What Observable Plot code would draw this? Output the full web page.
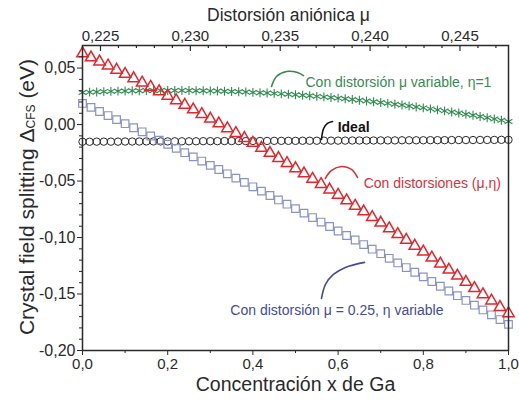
<!DOCTYPE html>
<html><head><meta charset="utf-8">
<script src="https://cdn.jsdelivr.net/npm/d3@7"></script>
<script src="https://cdn.jsdelivr.net/npm/@observablehq/plot@0.6"></script>
<style>body{margin:0;background:#fff} svg{font-family:"Liberation Sans",Arial,sans-serif}</style>
</head><body><div id="chart"></div>
<script>
// Concentration grids (x de Ga)
const xGrid51 = d3.range(51).map(i => i / 50);
const xGrid61 = d3.range(61).map(i => i / 60);

// Con distorsiones (mu, eta) — red triangles
const redY = [0.0629,0.0593,0.0557,0.0521,0.0484,0.0447,0.0409,0.0371,0.0333,0.0294,
  0.0254,0.0214,0.0174,0.0133,0.0092,0.0051,0.0009,-0.0034,-0.0076,-0.0120,
  -0.0163,-0.0207,-0.0252,-0.0297,-0.0342,-0.0388,-0.0434,-0.0481,-0.0528,-0.0576,
  -0.0623,-0.0672,-0.0721,-0.0770,-0.0820,-0.0870,-0.0920,-0.0971,-0.1022,-0.1074,
  -0.1126,-0.1179,-0.1232,-0.1286,-0.1339,-0.1394,-0.1449,-0.1504,-0.1559,-0.1616,-0.1672];

// Con distorsion mu = 0.25, eta variable — blue squares
const blueY = [0.0187,0.0152,0.0116,0.0080,0.0044,0.0008,-0.0028,-0.0064,-0.0101,-0.0138,
  -0.0174,-0.0211,-0.0249,-0.0286,-0.0323,-0.0361,-0.0398,-0.0436,-0.0474,-0.0512,
  -0.0551,-0.0589,-0.0628,-0.0667,-0.0705,-0.0744,-0.0784,-0.0823,-0.0863,-0.0902,
  -0.0942,-0.0982,-0.1022,-0.1062,-0.1103,-0.1143,-0.1184,-0.1225,-0.1266,-0.1307,
  -0.1348,-0.1389,-0.1431,-0.1473,-0.1515,-0.1557,-0.1599,-0.1641,-0.1684,-0.1726,-0.1769];

// Con distorsion mu variable, eta = 1 — green asterisks
const greenY = [0.0284,0.0287,0.0289,0.0292,0.0294,0.0296,0.0297,0.0299,0.0300,0.0301,
  0.0301,0.0302,0.0302,0.0302,0.0302,0.0301,0.0300,0.0299,0.0298,0.0297,
  0.0295,0.0293,0.0291,0.0288,0.0285,0.0282,0.0279,0.0276,0.0272,0.0268,
  0.0264,0.0260,0.0255,0.0250,0.0245,0.0240,0.0234,0.0228,0.0222,0.0216,
  0.0209,0.0202,0.0195,0.0188,0.0180,0.0173,0.0165,0.0156,0.0148,0.0139,
  0.0130,0.0121,0.0111,0.0102,0.0092,0.0082,0.0071,0.0060,0.0050,0.0038,0.0027];

// Ideal — black circles
const idealY = [-0.0152,-0.0152,-0.0151,-0.0151,-0.0151,-0.0151,-0.0150,-0.0150,-0.0150,-0.0149,
  -0.0149,-0.0149,-0.0149,-0.0148,-0.0148,-0.0148,-0.0148,-0.0147,-0.0147,-0.0147,
  -0.0146,-0.0146,-0.0146,-0.0146,-0.0145,-0.0145,-0.0145,-0.0144,-0.0144,-0.0144,
  -0.0144,-0.0143,-0.0143,-0.0143,-0.0142,-0.0142,-0.0142,-0.0142,-0.0141,-0.0141,
  -0.0141,-0.0141,-0.0140,-0.0140,-0.0140,-0.0139,-0.0139,-0.0139,-0.0139,-0.0138,
  -0.0138,-0.0138,-0.0137,-0.0137,-0.0137,-0.0137,-0.0136,-0.0136,-0.0136,-0.0135,-0.0135];

// Tick values
const xTicks = [0, 0.2, 0.4, 0.6, 0.8, 1.0];
const xMinor = [0.1, 0.3, 0.5, 0.7, 0.9];
const yTicks = [-0.20, -0.15, -0.10, -0.05, 0.00, 0.05];
const yMinor = [-0.19,-0.18,-0.17,-0.16,-0.14,-0.13,-0.12,-0.11,-0.09,-0.08,-0.07,-0.06,-0.04,-0.03,-0.02,-0.01,0.01,0.02,0.03,0.04,0.06];
const muDomain = [0.224, 0.2477];
const muTicks = [0.225, 0.230, 0.235, 0.240, 0.245];
const muMinor = [0.224,0.226,0.227,0.228,0.229,0.231,0.232,0.233,0.234,0.236,0.237,0.238,0.239,0.241,0.242,0.243,0.244,0.246,0.247];

// Annotations
const labels = [
  {x: 0.5235, y: 0.0373, text: "Con distorsión μ variable, η=1", color: "#3a8a52"},
  {x: 0.660, y: -0.0521, text: "Con distorsiones (μ,η)", color: "#d8323c"},
  {x: 0.347, y: -0.1645, text: "Con distorsión μ = 0.25, η variable", color: "#434c96"}
];
const labelIdeal = [{x: 0.599, y: -0.0026, text: "Ideal"}];
const arcGreen = [{x:0.4437,y:0.0337},{x:0.4554,y:0.0426},{x:0.4789,y:0.0470},{x:0.5047,y:0.0461},{x:0.5188,y:0.0434}];
const arcBlack = [{x:0.561,y:-0.0132},{x:0.566,y:-0.0035},{x:0.575,y:0.0010},{x:0.587,y:0.0027}];
const arcRed = [{x:0.570,y:-0.0477},{x:0.5845,y:-0.0406},{x:0.608,y:-0.0371},{x:0.6315,y:-0.0397},{x:0.6455,y:-0.0468}];
const arcBlue = [{x:0.561,y:-0.1539},{x:0.5704,y:-0.1415},{x:0.589,y:-0.1327},{x:0.617,y:-0.1265},{x:0.662,y:-0.1220}];

const red = redY.map((y, i) => ({x: xGrid51[i], y}));
const blue = blueY.map((y, i) => ({x: xGrid51[i], y}));
const green = greenY.map((y, i) => ({x: xGrid61[i], y}));
const ideal = idealY.map((y, i) => ({x: xGrid61[i], y}));

const locale = d3.formatLocale({decimal: ",", thousands: ".", grouping: [3], currency: ["", ""], minus: "-"});
const f1 = locale.format(".1f"), f2 = locale.format(".2f"), f3 = locale.format(".3f");
const muScale = d3.scaleLinear(muDomain, [0, 1]);

const FH = 400 - 45 - 50; // frame height
const ink = "#2a2a2a";

const chart = Plot.plot({
  width: 519, height: 400,
  marginLeft: 82, marginRight: 11, marginTop: 45, marginBottom: 50,
  style: {fontFamily: "Liberation Sans, Arial, sans-serif", background: "#fff", overflow: "visible"},
  x: {domain: [0, 1], axis: null},
  y: {domain: [-0.2, 0.07], axis: null},
  marks: [
    // series
    Plot.dot(ideal, {x: "x", y: "y", symbol: "circle", r: 3.7, stroke: "#2b2b2b", strokeWidth: 1}),
    Plot.dot(blue, {x: "x", y: "y", symbol: "square", r: 4.3, stroke: "#8a93c8", strokeWidth: 1.2}),
    Plot.dot(green, {x: "x", y: "y", symbol: "asterisk", r: 4.2, stroke: "#2f8c4f", strokeWidth: 1.1}),
    Plot.dot(red, {x: "x", y: "y", symbol: "triangle", r: 4.2, stroke: "#e4262c", strokeWidth: 1.5}),
    // annotation arcs
    Plot.line(arcGreen, {x: "x", y: "y", curve: "catmull-rom", stroke: "#2f8c4f", strokeWidth: 1.6}),
    Plot.line(arcBlack, {x: "x", y: "y", curve: "catmull-rom", stroke: "#111", strokeWidth: 1.6}),
    Plot.line(arcRed, {x: "x", y: "y", curve: "catmull-rom", stroke: "#d8323c", strokeWidth: 1.6}),
    Plot.line(arcBlue, {x: "x", y: "y", curve: "catmull-rom", stroke: "#434c96", strokeWidth: 1.6}),
    Plot.text(labels, {x: "x", y: "y", text: "text", fill: "color", textAnchor: "start", fontSize: 14}),
    Plot.text(labelIdeal, {x: "x", y: "y", text: "text", fill: "#111", textAnchor: "start", fontSize: 14, fontWeight: "bold"}),
    // frame
    Plot.frame({stroke: ink, strokeWidth: 1.5}),
    // bottom axis
    Plot.axisX(xTicks, {anchor: "bottom", tickSize: 5, tickPadding: 3, tickFormat: f1, fontSize: 15, color: ink, label: null}),
    Plot.axisX(xMinor, {anchor: "bottom", tickSize: 3, tickFormat: () => "", color: ink, label: null}),
    // left axis
    Plot.axisY(yTicks, {anchor: "left", tickSize: 5, tickPadding: 2, tickFormat: f2, fontSize: 16, color: ink, label: null}),
    Plot.axisY(yMinor, {anchor: "left", tickSize: 3, tickFormat: () => "", color: ink, label: null}),
    // top axis (mu)
    Plot.axisX(muTicks.map(muScale), {anchor: "top", tickSize: 0, tickPadding: 5, tickFormat: d => f3(muScale.invert(d)), fontSize: 15, color: ink, label: null}),
    Plot.ruleX(muTicks.map(muScale), {stroke: ink, strokeWidth: 1.2, insetBottom: FH - 6}),
    Plot.ruleX(muMinor.map(muScale), {stroke: ink, strokeWidth: 1.2, insetBottom: FH - 3}),
    // titles
    Plot.text(["Distorsión aniónica μ"], {frameAnchor: "top", dy: -37, dx: -7, fontSize: 17.5, fill: ink}),
    Plot.text(["Concentración x de Ga"], {frameAnchor: "bottom", dy: 40, fontSize: 19.5, fill: ink})
  ]
});

document.getElementById("chart").append(chart);

// y-axis title with subscript
const yl = d3.select(chart).append("text")
  .attr("transform", "translate(26,197) rotate(-90)")
  .attr("text-anchor", "middle")
  .attr("dominant-baseline", "central")
  .attr("fill", ink)
  .attr("font-size", 21);
yl.append("tspan").text("Crystal field splitting Δ");
yl.append("tspan").attr("font-size", 12).attr("dy", 5).text("CFS");
yl.append("tspan").attr("dy", -5).text(" (eV)");
</script>
</body></html>
